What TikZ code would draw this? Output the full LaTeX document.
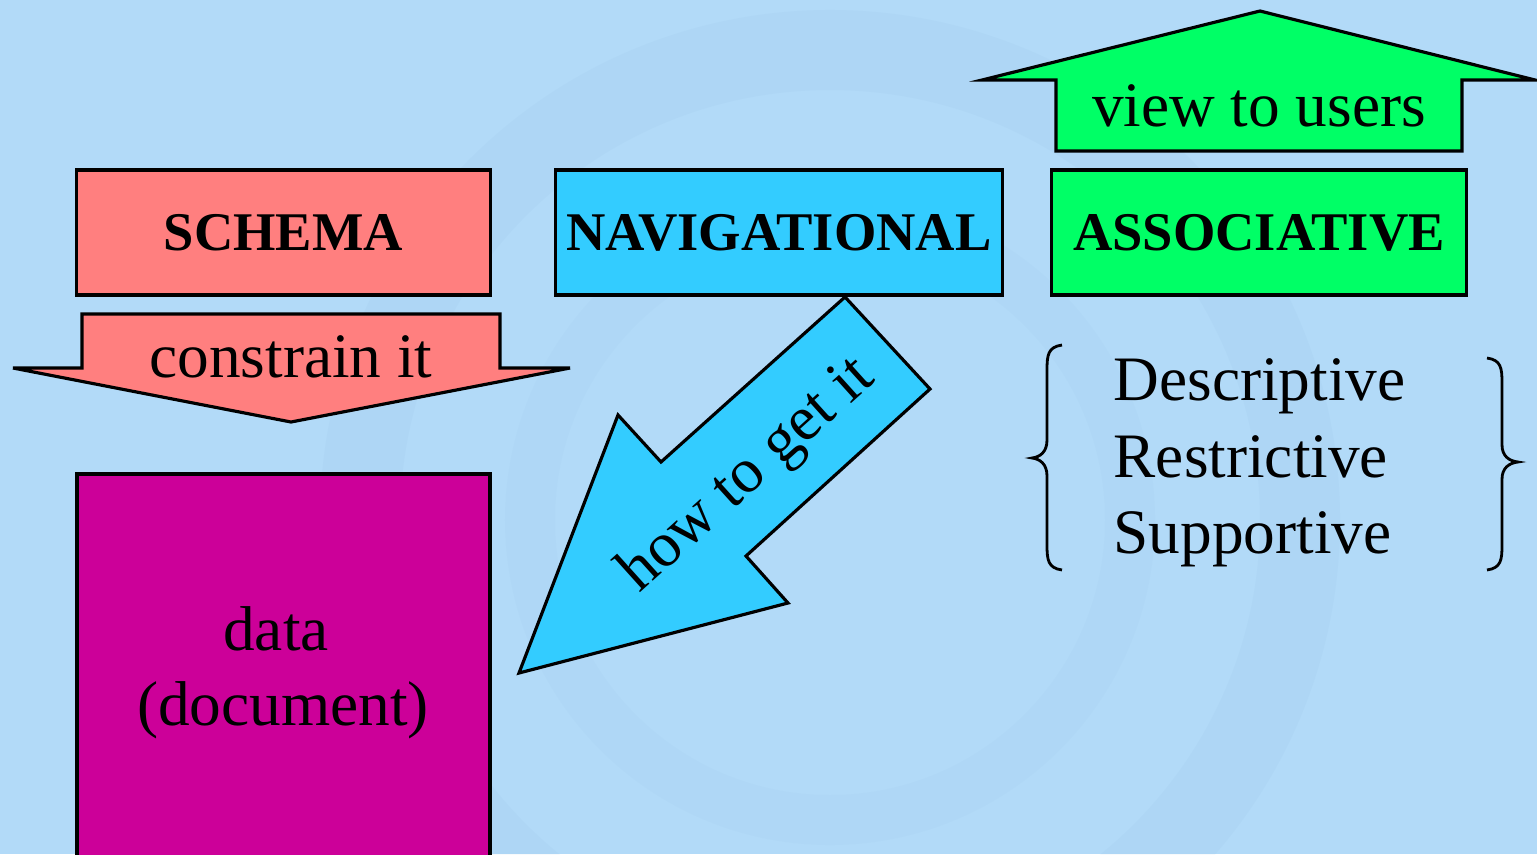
\documentclass[tikz,border=0pt]{standalone}
\usepackage{fontspec}
\setmainfont{Liberation Serif}
\usetikzlibrary{positioning}

\definecolor{slidebg}{RGB}{178,218,248}
\definecolor{swirl}{RGB}{120,165,205}
\definecolor{schemared}{RGB}{255,127,127}
\definecolor{navcyan}{RGB}{51,204,255}
\definecolor{assocgreen}{RGB}{0,255,102}
\definecolor{datamagenta}{RGB}{204,0,153}

\tikzset{
  kind/.style={draw=black, line width=0.9pt, minimum height=1.25cm, inner sep=0pt,
    font=\fontsize{15.5}{18}\selectfont\bfseries},
  bigarrow/.style={draw=black, line width=0.9pt, line join=miter},
  label/.style={font=\fontsize{18}{21}\selectfont, inner sep=0pt},
  bracket/.style={draw=black, line width=0.8pt}
}

\begin{document}
\begin{tikzpicture}[x=0.01cm,y=-0.01cm]
\useasboundingbox (0,0) rectangle (1537,854);
\clip (0,0) rectangle (1537,854);
\fill[slidebg] (0,0) rectangle (1537,854);
% faint watermark
\draw[swirl, opacity=0.06, line width=0.8cm] (830,520) circle (470);
\draw[swirl, opacity=0.04, line width=0.5cm] (830,520) circle (300);

% the three kinds of markup
\node[kind, fill=schemared, minimum width=4.13cm] (schema) at (283.5,232.5) {SCHEMA};
\node[kind, fill=navcyan, minimum width=4.46cm] (nav) at (779,232.5) {NAVIGATIONAL};
\node[kind, fill=assocgreen, minimum width=4.14cm] (assoc) at (1259,232.5) {ASSOCIATIVE};

% data box
\draw[line width=0.9pt, fill=datamagenta] (77,474) rectangle (490,880);
\node[label, anchor=base] (data) at (276,650) {data};
\node[label, anchor=base] (doc) at (283,725) {(document)};

% constrain it
\draw[bigarrow, fill=schemared] (82,314) -- (500,314) -- (500,368) -- (570,368)
  -- (291,422) -- (13,368) -- (82,368) -- cycle;
\node[label, anchor=base] (constrain) at (291,377) {constrain it};

% view to users
\draw[bigarrow, fill=assocgreen] (1056,151) -- (1462,151) -- (1462,80) -- (1535,80)
  -- (1260,11) -- (982,80) -- (1056,80) -- cycle;
\node[label, anchor=base] (view) at (1259,126) {view to users};

% how to get it
\draw[bigarrow, fill=navcyan] (845,297) -- (930,389) -- (746,556) -- (788,603)
  -- (519,673) -- (618,415) -- (661,462) -- cycle;
\node[label, rotate=42] (howto) at (748,476) {how to get it};

% braces and list
\draw[bracket] (1062,345) .. controls (1048,347) and (1047,355) .. (1047,370)
  -- (1047,440) .. controls (1047,452) and (1040,457) .. (1032,458)
  .. controls (1040,459) and (1047,464) .. (1047,476)
  -- (1047,545) .. controls (1047,560) and (1048,568) .. (1062,570);
\draw[bracket] (1487,358) .. controls (1501,360) and (1502,368) .. (1502,383)
  -- (1502,445) .. controls (1502,456) and (1509,461) .. (1518,462)
  .. controls (1509,463) and (1502,468) .. (1502,479)
  -- (1502,545) .. controls (1502,560) and (1501,568) .. (1487,570);
\node[label, anchor=base west] (desc) at (1113,400) {Descriptive};
\node[label, anchor=base west] (restr) at (1113,477) {Restrictive};
\node[label, anchor=base west] (supp) at (1113,553) {Supportive};
\end{tikzpicture}
\end{document}
